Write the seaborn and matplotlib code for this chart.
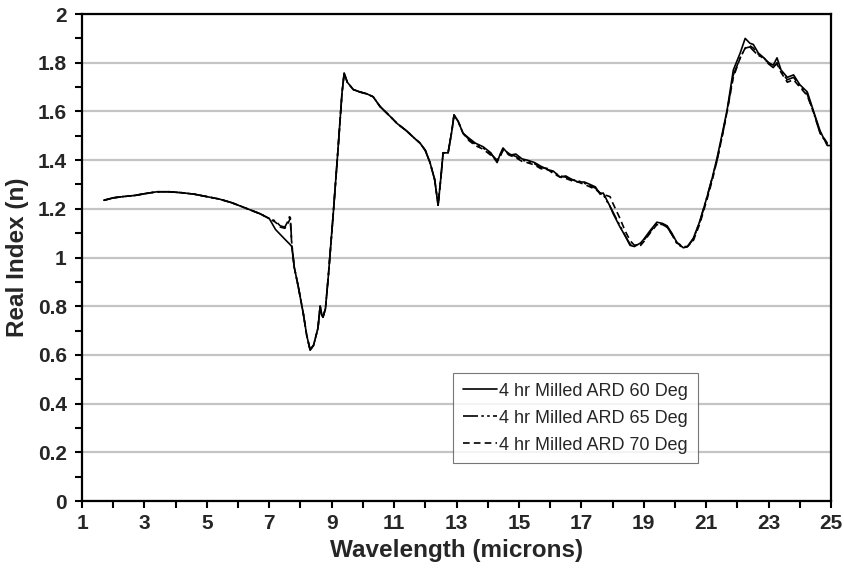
import matplotlib
matplotlib.use("Agg")
import matplotlib.pyplot as plt
from matplotlib.ticker import MultipleLocator
import pandas as pd
import seaborn as sns

# wavelength (microns), shared by the three runs
wavelength = [
    1.7, 2.0, 2.3, 2.7, 3.0, 3.4, 3.8, 4.2, 4.6, 5.0,
    5.4, 5.8, 6.1, 6.4, 6.7, 7.0, 7.2, 7.35, 7.5, 7.6,
    7.67, 7.72, 7.8, 7.93, 8.09, 8.2, 8.31, 8.42, 8.56, 8.63,
    8.68, 8.72, 8.8, 8.89, 9.05, 9.2, 9.33, 9.4, 9.5, 9.69,
    9.9, 10.13, 10.33, 10.55, 10.87, 11.1, 11.4, 11.65, 11.83, 12.0,
    12.15, 12.3, 12.41, 12.5, 12.57, 12.73, 12.85, 12.92, 13.05, 13.21,
    13.4, 13.6, 13.85, 14.1, 14.3, 14.4, 14.49, 14.7, 14.9, 15.1,
    15.26, 15.5, 15.7, 15.94, 16.1, 16.32, 16.5, 16.7, 16.9, 17.1,
    17.28, 17.45, 17.6, 17.7, 17.8, 17.92, 18.02, 18.24, 18.4, 18.56,
    18.7, 18.9, 19.0, 19.2, 19.42, 19.6, 19.75, 19.9, 20.07, 20.27,
    20.4, 20.59, 20.8, 21.03, 21.2, 21.35, 21.5, 21.67, 21.87, 22.09,
    22.25, 22.4, 22.51, 22.67, 22.85, 23.0, 23.15, 23.27, 23.4, 23.6,
    23.8, 24.0, 24.24, 24.43, 24.65, 24.88, 25.0,
]

n_60 = [
    1.235, 1.245, 1.25, 1.255, 1.262, 1.27, 1.27, 1.266, 1.26, 1.25,
    1.24, 1.225, 1.21, 1.195, 1.18, 1.16, 1.115, 1.095, 1.075, 1.062,
    1.053, 1.045, 0.96, 0.88, 0.77, 0.68, 0.62, 0.64, 0.71, 0.80,
    0.765, 0.755, 0.79, 0.92, 1.18, 1.44, 1.675, 1.757, 1.72, 1.69,
    1.68, 1.672, 1.66, 1.62, 1.58, 1.55, 1.52, 1.49, 1.47, 1.44,
    1.39, 1.32, 1.215, 1.33, 1.43, 1.43, 1.52, 1.585, 1.56, 1.51,
    1.49, 1.47, 1.455, 1.43, 1.39, 1.425, 1.45, 1.42, 1.425, 1.405,
    1.40, 1.39, 1.375, 1.36, 1.355, 1.33, 1.335, 1.32, 1.31, 1.31,
    1.30, 1.29, 1.26, 1.265, 1.24, 1.21, 1.18, 1.125, 1.09, 1.05,
    1.045, 1.06, 1.075, 1.11, 1.145, 1.14, 1.13, 1.10, 1.06, 1.04,
    1.045, 1.08, 1.15, 1.25, 1.33, 1.41, 1.50, 1.605, 1.77, 1.84,
    1.90, 1.88, 1.875, 1.84, 1.82, 1.80, 1.79, 1.82, 1.77, 1.74,
    1.75, 1.71, 1.68, 1.605, 1.52, 1.46, 1.46,
]

n_65 = [
    1.235, 1.245, 1.25, 1.255, 1.262, 1.27, 1.27, 1.266, 1.26, 1.25,
    1.24, 1.225, 1.21, 1.195, 1.18, 1.16, 1.15, 1.13, 1.125, 1.15,
    1.175, 1.06, 0.96, 0.88, 0.77, 0.68, 0.62, 0.64, 0.71, 0.80,
    0.765, 0.755, 0.79, 0.92, 1.18, 1.44, 1.675, 1.757, 1.72, 1.69,
    1.68, 1.672, 1.66, 1.62, 1.58, 1.55, 1.52, 1.49, 1.47, 1.44,
    1.39, 1.32, 1.215, 1.33, 1.43, 1.43, 1.52, 1.585, 1.56, 1.51,
    1.485, 1.465, 1.45, 1.425, 1.40, 1.42, 1.445, 1.425, 1.415, 1.40,
    1.395, 1.385, 1.37, 1.365, 1.35, 1.335, 1.33, 1.32, 1.315, 1.305,
    1.295, 1.285, 1.265, 1.26, 1.235, 1.21, 1.185, 1.13, 1.09, 1.055,
    1.05, 1.055, 1.07, 1.105, 1.14, 1.135, 1.125, 1.095, 1.055, 1.04,
    1.045, 1.075, 1.15, 1.25, 1.33, 1.40, 1.49, 1.60, 1.75, 1.82,
    1.86, 1.865, 1.85, 1.83, 1.82, 1.795, 1.78, 1.80, 1.765, 1.73,
    1.74, 1.705, 1.67, 1.60, 1.51, 1.465, 1.47,
]

n_70 = [
    1.235, 1.245, 1.25, 1.255, 1.262, 1.27, 1.27, 1.266, 1.26, 1.25,
    1.24, 1.225, 1.21, 1.195, 1.18, 1.16, 1.145, 1.125, 1.12, 1.14,
    1.16, 1.055, 0.96, 0.88, 0.77, 0.68, 0.62, 0.64, 0.71, 0.80,
    0.765, 0.755, 0.79, 0.92, 1.18, 1.44, 1.675, 1.757, 1.72, 1.69,
    1.68, 1.672, 1.66, 1.62, 1.58, 1.55, 1.52, 1.49, 1.47, 1.44,
    1.39, 1.32, 1.215, 1.33, 1.43, 1.43, 1.52, 1.585, 1.56, 1.51,
    1.48, 1.46, 1.445, 1.42, 1.395, 1.415, 1.44, 1.42, 1.41, 1.395,
    1.39, 1.38, 1.365, 1.36, 1.345, 1.33, 1.325, 1.315, 1.31, 1.30,
    1.29, 1.28, 1.265, 1.26, 1.255, 1.25, 1.22, 1.16, 1.11, 1.07,
    1.05, 1.05, 1.065, 1.10, 1.135, 1.135, 1.125, 1.095, 1.06, 1.045,
    1.045, 1.07, 1.14, 1.24, 1.32, 1.40, 1.49, 1.60, 1.74, 1.82,
    1.86, 1.87, 1.86, 1.835, 1.815, 1.80, 1.785, 1.795, 1.76, 1.72,
    1.73, 1.70, 1.665, 1.60, 1.515, 1.47, 1.47,
]

labels = ["4 hr Milled ARD 60 Deg", "4 hr Milled ARD 65 Deg", "4 hr Milled ARD 70 Deg"]
x_ticks = [1, 3, 5, 7, 9, 11, 13, 15, 17, 19, 21, 23, 25]
y_ticks = [0, 0.2, 0.4, 0.6, 0.8, 1, 1.2, 1.4, 1.6, 1.8, 2]
y_ticklabels = ["0", "0.2", "0.4", "0.6", "0.8", "1", "1.2", "1.4", "1.6", "1.8", "2"]

df = pd.concat([
    pd.DataFrame({"wl": wavelength, "n": vals, "run": lab})
    for vals, lab in zip([n_60, n_65, n_70], labels)
])

sns.set_style("white")
plt.rcParams["font.family"] = ["Liberation Sans", "DejaVu Sans"]

fig = plt.figure(figsize=(8.44, 5.77), dpi=100)
ax = fig.add_axes([0.0972, 0.1317, 0.8874, 0.8440])

ax.yaxis.grid(True, color="#c4c4c4", linewidth=1.6, zorder=0)
ax.set_axisbelow(True)

dash_map = {
    labels[0]: "",
    labels[1]: (9, 2, 1.5, 2, 1.5, 2),
    labels[2]: (4, 2.5),
}
sns.lineplot(data=df, x="wl", y="n", hue="run", style="run", dashes=dash_map,
             palette=["black"] * 3, estimator=None, sort=False,
             linewidth=1.2, ax=ax)

ax.set_xlim(1, 25)
ax.set_ylim(0, 2)
ax.set_xticks(x_ticks)
ax.xaxis.set_minor_locator(MultipleLocator(1))
ax.set_yticks(y_ticks)
ax.set_yticklabels(y_ticklabels)
ax.yaxis.set_minor_locator(MultipleLocator(0.1))
ax.tick_params(which="both", direction="out", length=5, width=1.5, color="black",
               bottom=True, left=True, labelsize=15)
ax.tick_params(axis="y", pad=6)
ax.tick_params(axis="x", pad=4)
for lab in ax.get_xticklabels() + ax.get_yticklabels():
    lab.set_fontweight("bold")

for sp in ax.spines.values():
    sp.set_color("black")
    sp.set_linewidth(1.6)

ax.set_xlabel("Wavelength (microns)", fontsize=17.5, fontweight="bold", labelpad=5)
ax.set_ylabel("Real Index (n)", fontsize=17.5, fontweight="bold", labelpad=6)

leg = ax.legend(loc="upper left", bbox_to_anchor=(0.537, 0.354),
                bbox_transform=fig.transFigure, fontsize=13, frameon=True,
                fancybox=False, handlelength=1.9, handletextpad=0.1,
                borderpad=0.55, labelspacing=0.55, borderaxespad=0)
leg.get_frame().set_edgecolor("#555555")
leg.get_frame().set_linewidth(0.8)

fig.savefig("out.png", dpi=100)
